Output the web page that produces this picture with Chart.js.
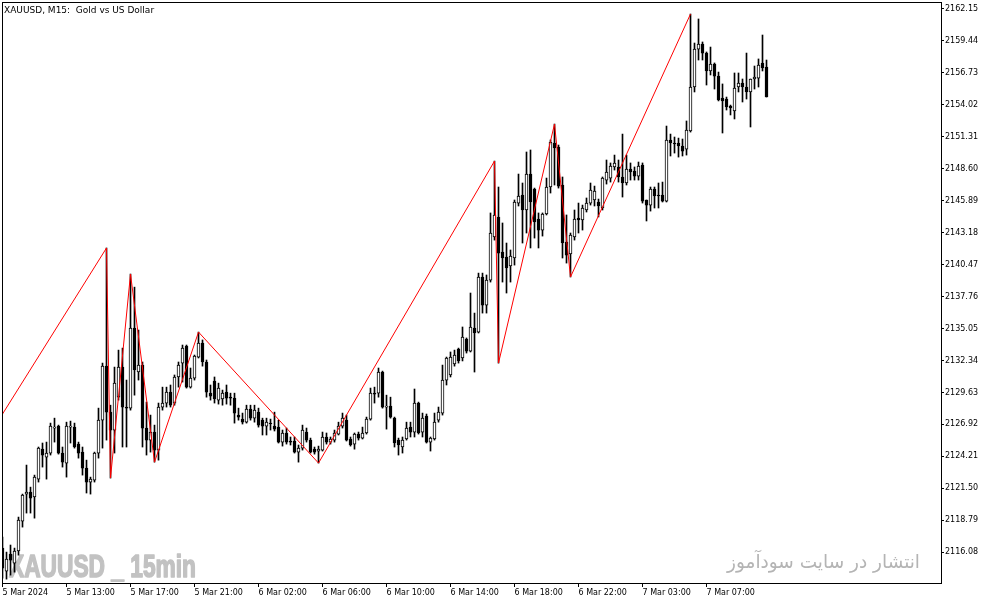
<!DOCTYPE html>
<html><head><meta charset="utf-8">
<script src="https://cdn.jsdelivr.net/npm/chart.js@4"></script>
<style>html,body{margin:0;padding:0;background:#fff;}#wrap{width:994px;height:605px;position:relative;}</style>
</head><body><div id="wrap"><canvas id="c"></canvas></div>
<script>
const chartTitle = "XAUUSD, M15:  Gold vs US Dollar";
const watermarkLeft = "XAUUSD _ 15min";
const watermarkRight = "انتشار در سایت سودآموز";
const timeLabels = ["5 Mar 2024","5 Mar 13:00","5 Mar 17:00","5 Mar 21:00","6 Mar 02:00","6 Mar 06:00","6 Mar 10:00","6 Mar 14:00","6 Mar 18:00","6 Mar 22:00","7 Mar 03:00","7 Mar 07:00"];
const timeLabelIndex = [0,16,32,48,64,80,96,112,128,144,160,176];
const priceTicks = [2116.08,2118.79,2121.50,2124.21,2126.92,2129.63,2132.34,2135.05,2137.76,2140.47,2143.18,2145.89,2148.60,2151.31,2154.02,2156.73,2159.44,2162.15];
const opens = [2116.43,2114.48,2115.92,2115.16,2116.18,2118.72,2121.01,2121.18,2120.76,2122.28,2124.82,2124.15,2124.49,2126.61,2126.78,2124.49,2123.64,2126.69,2126.69,2125.25,2124.57,2123.21,2122.03,2122.20,2124.49,2127.28,2131.86,2127.96,2126.44,2129.23,2131.78,2128.39,2128.30,2135.09,2131.36,2131.95,2126.61,2125.59,2126.27,2124.74,2128.39,2128.73,2129.66,2128.73,2130.94,2132.12,2133.56,2130.08,2130.85,2132.63,2133.82,2132.21,2129.57,2130.60,2128.98,2129.07,2129.66,2129.23,2129.15,2127.71,2127.37,2127.11,2128.22,2127.45,2127.96,2127.28,2126.78,2127.03,2126.78,2126.69,2125.42,2126.19,2125.51,2125.51,2124.57,2124.91,2126.27,2125.59,2124.82,2124.66,2124.74,2125.85,2125.42,2125.59,2126.10,2126.78,2127.28,2125.68,2125.25,2126.10,2125.76,2126.19,2127.37,2129.57,2129.57,2131.36,2128.39,2128.47,2127.45,2125.59,2125.00,2125.68,2126.69,2126.27,2128.73,2126.27,2127.63,2125.42,2125.68,2127.28,2127.88,2130.68,2131.11,2132.04,2133.31,2132.55,2134.16,2133.14,2135.09,2134.75,2139.42,2137.04,2139.16,2142.81,2144.51,2141.54,2141.11,2140.35,2141.03,2145.69,2146.37,2145.10,2148.15,2146.88,2144.34,2143.40,2144.76,2147.05,2150.78,2150.44,2147.22,2142.38,2141.37,2142.81,2144.42,2144.25,2145.10,2145.69,2145.95,2145.78,2145.27,2147.64,2147.81,2148.75,2148.75,2147.90,2147.39,2148.58,2148.41,2147.98,2148.92,2145.95,2145.52,2146.88,2146.37,2146.37,2145.86,2151.04,2150.78,2150.78,2150.53,2150.27,2151.80,2155.53,2158.75,2159.18,2158.41,2156.89,2157.48,2156.46,2154.60,2154.51,2153.92,2153.50,2155.53,2155.87,2155.53,2155.11,2156.21,2156.29,2157.57,2157.23];
const highs = [2117.36,2116.09,2116.69,2116.43,2119.06,2121.01,2123.47,2121.60,2122.62,2125.00,2125.34,2125.42,2127.03,2127.45,2126.86,2125.00,2127.11,2127.20,2127.03,2125.42,2125.00,2123.89,2122.45,2124.57,2128.30,2132.12,2141.88,2128.55,2131.78,2133.22,2133.39,2130.68,2139.67,2138.56,2134.92,2132.21,2128.81,2127.71,2126.86,2128.73,2130.08,2130.08,2130.26,2131.11,2132.21,2133.65,2133.65,2131.70,2132.80,2134.75,2134.08,2132.38,2130.26,2130.94,2130.42,2129.83,2130.26,2129.57,2129.57,2128.30,2127.88,2128.55,2128.55,2128.55,2128.30,2127.45,2127.45,2127.37,2127.96,2127.28,2126.44,2126.61,2125.85,2125.85,2125.17,2126.86,2126.61,2125.76,2125.00,2125.08,2126.27,2126.19,2125.85,2126.44,2127.11,2127.88,2127.71,2125.85,2126.19,2126.27,2126.69,2127.54,2130.00,2130.08,2131.70,2131.44,2129.40,2129.23,2127.54,2125.76,2125.85,2127.11,2127.11,2129.92,2128.81,2127.88,2127.80,2125.85,2127.88,2128.39,2131.95,2132.63,2133.06,2133.22,2133.39,2135.18,2134.25,2138.06,2136.36,2139.75,2139.75,2139.59,2144.85,2149.25,2147.05,2144.00,2142.30,2141.71,2145.95,2148.15,2147.39,2150.02,2150.19,2146.96,2144.85,2144.85,2147.81,2151.04,2152.39,2150.61,2147.90,2144.68,2143.15,2145.10,2145.69,2145.52,2146.12,2147.39,2147.13,2146.03,2147.90,2149.34,2149.09,2149.76,2149.34,2151.54,2149.76,2149.09,2148.75,2149.17,2149.09,2145.95,2147.05,2147.05,2147.39,2147.47,2152.22,2151.54,2151.29,2151.20,2151.12,2152.65,2161.72,2159.26,2161.30,2159.35,2158.50,2158.92,2157.57,2156.80,2155.79,2154.68,2154.00,2156.72,2156.72,2156.21,2158.41,2156.21,2157.31,2157.91,2159.94,2157.82];
const lows = [2113.89,2113.80,2114.14,2114.39,2115.83,2118.21,2119.40,2119.40,2118.97,2122.03,2123.30,2122.28,2124.32,2125.42,2124.40,2123.30,2122.45,2125.34,2124.91,2124.06,2122.62,2121.10,2121.01,2122.03,2124.06,2124.91,2125.59,2122.37,2124.49,2128.98,2125.00,2125.00,2128.13,2129.40,2130.68,2125.00,2124.32,2124.57,2123.72,2123.89,2128.13,2128.39,2128.39,2128.55,2130.08,2130.51,2130.00,2130.00,2130.68,2132.55,2131.86,2129.23,2128.98,2128.73,2128.64,2128.55,2128.64,2128.55,2127.03,2127.28,2126.95,2127.03,2127.28,2127.11,2126.69,2126.02,2126.02,2126.44,2126.36,2125.34,2125.08,2125.25,2125.17,2124.49,2123.72,2124.74,2125.42,2124.49,2124.40,2123.64,2124.66,2125.25,2125.25,2125.42,2126.02,2126.61,2125.51,2125.08,2124.82,2125.59,2125.68,2126.10,2127.28,2128.73,2129.23,2128.30,2126.52,2127.45,2125.00,2124.32,2124.49,2125.59,2125.85,2125.85,2126.10,2125.85,2125.34,2124.66,2125.59,2127.11,2127.71,2130.26,2130.94,2131.86,2132.12,2132.30,2132.97,2133.06,2131.36,2134.67,2136.36,2136.36,2138.99,2142.55,2132.12,2138.99,2138.06,2138.99,2140.43,2145.44,2142.30,2143.15,2141.88,2142.72,2141.88,2142.89,2144.68,2146.54,2147.22,2146.96,2141.03,2140.60,2139.42,2142.55,2143.15,2143.40,2144.93,2145.52,2145.44,2144.51,2145.10,2147.30,2147.47,2148.49,2147.47,2146.20,2147.22,2147.64,2147.64,2147.64,2145.69,2144.17,2145.01,2145.27,2145.27,2145.78,2145.78,2149.68,2149.93,2149.59,2149.68,2149.76,2151.71,2155.11,2157.82,2157.82,2155.70,2156.55,2155.36,2154.35,2151.63,2153.58,2153.16,2152.82,2155.11,2154.26,2154.51,2152.14,2155.36,2155.53,2156.89,2154.68];
const closes = [2114.73,2115.50,2115.41,2116.18,2118.80,2120.92,2121.18,2120.67,2122.45,2124.91,2124.32,2124.49,2126.78,2126.69,2124.49,2123.72,2126.78,2126.78,2125.00,2124.49,2123.21,2122.03,2122.28,2124.49,2127.28,2131.86,2127.96,2126.44,2130.42,2131.78,2128.39,2128.30,2135.09,2131.53,2131.95,2126.61,2125.59,2126.27,2124.74,2128.39,2128.73,2129.66,2128.55,2130.94,2131.95,2133.39,2130.08,2130.85,2132.71,2133.82,2132.21,2129.66,2129.32,2129.07,2130.00,2129.57,2129.15,2129.15,2127.88,2127.54,2127.11,2128.22,2127.45,2128.13,2126.86,2126.78,2127.11,2126.95,2126.52,2125.42,2126.19,2125.42,2125.42,2124.57,2124.91,2126.44,2125.59,2124.57,2124.57,2124.82,2125.85,2125.42,2125.68,2126.19,2126.78,2127.45,2125.59,2125.17,2126.10,2125.76,2126.19,2127.37,2129.57,2129.49,2131.36,2128.39,2128.47,2127.54,2125.34,2125.17,2125.59,2126.61,2126.27,2128.73,2126.19,2127.45,2125.42,2125.76,2127.11,2127.96,2130.68,2132.55,2132.63,2132.80,2132.30,2134.33,2133.14,2135.18,2134.67,2139.42,2137.04,2139.16,2143.15,2144.68,2141.45,2141.03,2140.18,2141.20,2145.78,2146.29,2145.10,2148.15,2145.78,2144.08,2143.40,2144.76,2147.05,2150.87,2150.36,2147.13,2142.30,2141.28,2142.98,2144.34,2144.25,2145.27,2145.69,2146.79,2146.71,2145.44,2147.81,2148.32,2148.83,2149.09,2147.90,2147.39,2148.58,2148.32,2147.98,2148.83,2145.86,2145.52,2146.88,2146.29,2146.29,2145.86,2151.04,2150.78,2150.70,2150.53,2150.10,2151.88,2155.53,2158.75,2159.18,2158.41,2156.89,2157.48,2156.46,2154.43,2154.35,2153.84,2153.75,2155.45,2155.87,2155.53,2155.11,2156.21,2156.38,2157.40,2157.14,2154.68];
const zigzagIndex = [0,26,27,32,38,49,79,123,124,138,142,172];
const zigzagPrice = [2127.80,2141.88,2122.37,2139.67,2123.72,2134.75,2123.64,2149.25,2132.12,2152.39,2139.42,2161.72];

const bodies = opens.map((o,i)=>({x:i, y:[o, closes[i]]}));
const wicks = lows.map((l,i)=>({x:i, y:[l, highs[i]]}));
const zigzag = zigzagIndex.map((x,k)=>({x:x, y:zigzagPrice[k]}));

Chart.defaults.font.family = "'DejaVu Sans', sans-serif";
Chart.defaults.color = '#000';

const decor = {
  id: 'decor',
  beforeDatasetsDraw(chart) {
    const ctx = chart.ctx;
    ctx.save();
    ctx.font = "bold 32px 'Liberation Sans'";
    ctx.textBaseline = 'alphabetic';
    ctx.textAlign = 'left';
    const w1 = ctx.measureText(watermarkLeft).width;
    ctx.fillStyle = '#c2c2c2';
    ctx.strokeStyle = '#c2c2c2';
    ctx.lineWidth = 1.6;
    ctx.lineJoin = 'round';
    ctx.translate(9, 577);
    ctx.scale(187 / w1, 1);
    ctx.fillText(watermarkLeft, 0, 0);
    ctx.strokeText(watermarkLeft, 0, 0);
    ctx.restore();
    ctx.save();
    ctx.font = "19px 'DejaVu Sans'";
    ctx.textBaseline = 'alphabetic';
    ctx.textAlign = 'right';
    const w2 = ctx.measureText(watermarkRight).width;
    ctx.fillStyle = '#b4b4b4';
    ctx.translate(920, 568);
    ctx.scale(193 / w2, 1);
    ctx.fillText(watermarkRight, 0, 0);
    ctx.restore();
  },
  afterDraw(chart) {
    const ctx = chart.ctx;
    const a = chart.chartArea;
    ctx.save();
    ctx.strokeStyle = '#000';
    ctx.lineWidth = 1;
    ctx.strokeRect(Math.round(a.left) + 0.5, Math.round(a.top) + 0.5, Math.round(a.right - a.left), Math.round(a.bottom - a.top));
    ctx.font = "9px 'DejaVu Sans'";
    ctx.fillStyle = '#000';
    ctx.textBaseline = 'alphabetic';
    ctx.textAlign = 'left';
    ctx.fillText(chartTitle, 4, 13);
    ctx.restore();
  }
};

new Chart(document.getElementById('c'), {
  type: 'bar',
  data: {
    datasets: [
      { type: 'line', data: zigzag, borderColor: '#ff0000', borderWidth: 1, pointRadius: 0, tension: 0, order: 0 },
      { type: 'bar', data: bodies, grouped: false, barThickness: 3, minBarLength: 1,
        backgroundColor: c => (closes[c.dataIndex] >= opens[c.dataIndex] ? '#ffffff' : '#000000'),
        borderColor: '#000000', borderWidth: 1, borderSkipped: false, order: 1 },
      { type: 'bar', data: wicks, grouped: false, barThickness: 1, backgroundColor: '#000000', borderWidth: 0, order: 2 }
    ]
  },
  options: {
    responsive: true,
    maintainAspectRatio: false,
    animation: false,
    events: [],
    layout: { padding: { left: 2, top: 2, right: 0, bottom: 0 } },
    plugins: { legend: { display: false }, tooltip: { enabled: false } },
    scales: {
      x: {
        type: 'linear', position: 'bottom', min: -0.125, max: 234.625, offset: false,
        afterBuildTicks: s => { s.ticks = timeLabelIndex.map(v => ({ value: v })); },
        afterFit: s => { s.height = 22; s.paddingLeft = 0; s.paddingRight = 0; },
        ticks: { autoSkip: false, maxRotation: 0, minRotation: 0, align: 'start', padding: 1, color: '#000',
          font: { size: 8, family: "'DejaVu Sans'" },
          callback: (v, idx) => timeLabels[idx] },
        grid: { offset: false, drawOnChartArea: false, drawTicks: true, tickLength: 4, color: '#000' },
        border: { display: true, color: '#000' }
      },
      y: {
        type: 'linear', position: 'right', min: 2113.47, max: 2162.74,
        afterBuildTicks: s => { s.ticks = priceTicks.map(v => ({ value: v })); },
        afterFit: s => { s.width = 53; s.paddingTop = 0; s.paddingBottom = 0; },
        ticks: { padding: 1, color: '#000', font: { size: 8, family: "'DejaVu Sans'" },
          callback: v => Number(v).toFixed(2) },
        grid: { drawOnChartArea: false, drawTicks: true, tickLength: 3, color: '#000' },
        border: { display: true, color: '#000' }
      }
    }
  },
  plugins: [decor]
});
</script>
</body></html>
